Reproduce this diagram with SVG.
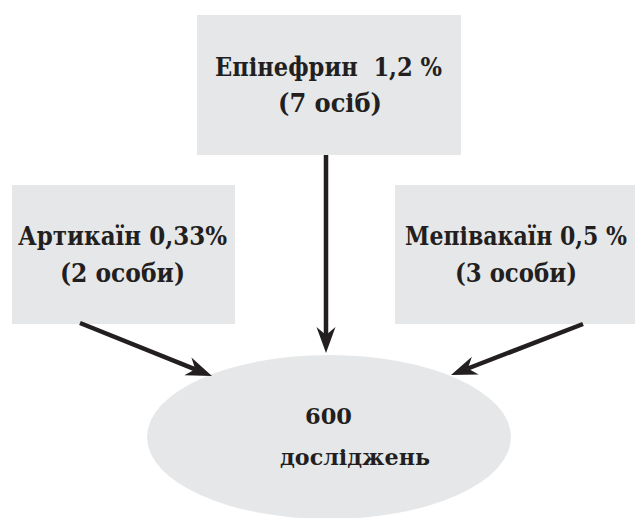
<svg xmlns="http://www.w3.org/2000/svg" width="635" height="518" viewBox="0 0 635 518">
<style>
.box{fill:#e6e7e8}
.t{font-family:'DejaVu Serif Condensed','DejaVu Serif',serif;font-weight:700;font-size:26px;fill:#231f20;white-space:pre}
.e{font-size:22px}
.c{text-anchor:middle}
.arr{stroke:#231f20;stroke-width:4.5;fill:none;marker-end:url(#ah)}
</style>
<defs>
<marker id="ah" markerUnits="userSpaceOnUse" markerWidth="30" markerHeight="24" viewBox="-2 -12 30 24" refX="8" refY="0" orient="auto">
<path d="M26,0 L0,-9.5 L8,0 L0,9.5 Z" fill="#231f20"/>
</marker>
</defs>
<rect width="635" height="518" fill="#ffffff"/>
<g id="epinefryn">
<rect class="box" x="197" y="15" width="264" height="140"/>
<text class="t c" x="328.5" y="76" xml:space="preserve" textLength="227" lengthAdjust="spacingAndGlyphs">Епінефрин  1,2 %</text>
<text class="t c" x="330" y="112" textLength="104" lengthAdjust="spacingAndGlyphs">(7 осіб)</text>
</g>
<g id="artykain">
<rect class="box" x="12" y="185" width="223" height="139"/>
<text class="t c" x="122.5" y="245" textLength="209" lengthAdjust="spacingAndGlyphs">Артикаїн 0,33%</text>
<text class="t c" x="122.5" y="282" textLength="125" lengthAdjust="spacingAndGlyphs">(2 особи)</text>
</g>
<g id="mepivakain">
<rect class="box" x="395" y="185" width="240" height="139"/>
<text class="t c" x="516" y="245" textLength="222" lengthAdjust="spacingAndGlyphs">Мепівакаїн 0,5 %</text>
<text class="t c" x="516" y="282" textLength="122" lengthAdjust="spacingAndGlyphs">(3 особи)</text>
</g>
<g id="doslidzhen">
<ellipse class="box" cx="329" cy="437" rx="182" ry="82"/>
<text class="t e" x="305" y="424" textLength="47" lengthAdjust="spacingAndGlyphs">600</text>
<text class="t e" x="280" y="465" textLength="150" lengthAdjust="spacingAndGlyphs">досліджень</text>
</g>
<g id="connectors">
<line class="arr" x1="326" y1="155" x2="326" y2="335"/>
<line class="arr" x1="80" y1="323" x2="195.3" y2="369.3"/>
<line class="arr" x1="583" y1="324" x2="467.8" y2="368.5"/>
</g>
</svg>
